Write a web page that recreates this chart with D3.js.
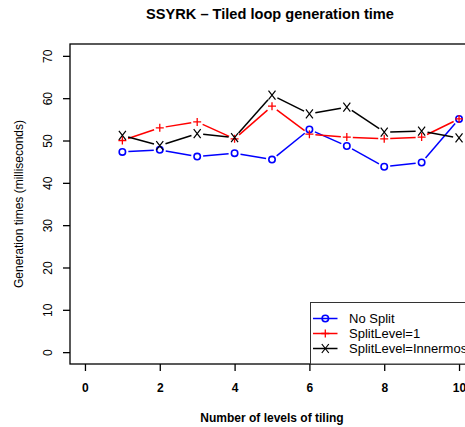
<!DOCTYPE html>
<html>
<head>
<meta charset="utf-8">
<script src="https://cdnjs.cloudflare.com/ajax/libs/d3/7.8.5/d3.min.js"></script>
<style>
  body { margin: 0; background: #fff; }
  svg text { font-family: "Liberation Sans", Arial, sans-serif; }
</style>
</head>
<body>
<script>
var levels = [1, 2, 3, 4, 5, 6, 7, 8, 9, 10];
var noSplit = [47.3, 47.8, 46.2, 47.0, 45.5, 52.6, 48.7, 43.8, 44.8, 55.1];
var splitLevel1 = [50.0, 53.0, 54.4, 50.4, 58.1, 51.5, 50.8, 50.4, 50.8, 55.1];
var splitInner = [51.2, 48.8, 51.6, 50.7, 60.7, 56.3, 57.9, 52.0, 52.2, 50.6];
var xTicks = [0, 2, 4, 6, 8, 10];
var yTicks = [0, 10, 20, 30, 40, 50, 60, 70];
var seriesNames = ['No Split', 'SplitLevel=1', 'SplitLevel=Innermost'];
var seriesColors = ['#0000ff', '#ff0000', '#000000'];
var seriesShapes = ['circle', 'plus', 'cross'];

var W = 465, H = 427;
var svg = d3.select('body').append('svg').attr('width', W).attr('height', H);

// R style: 4% padding on both axes
var xScale = d3.scaleLinear().domain([-0.4, 10.4]).range([70, 474]);
var yScale = d3.scaleLinear().domain([-2.8, 72.8]).range([364, 44]);

svg.append('text')
    .attr('x', 270).attr('y', 18.5)
    .attr('text-anchor', 'middle')
    .style('font-size', '14.6px').style('font-weight', 'bold')
    .text('SSYRK \u2013 Tiled loop generation time');

// plot box
svg.append('rect')
    .attr('x', 70).attr('y', 44).attr('width', 404).attr('height', 320)
    .attr('fill', 'none').attr('stroke', '#000').attr('stroke-width', 1.3);

var yAxis = svg.append('g').attr('transform', 'translate(70,0)')
    .call(d3.axisLeft(yScale).tickValues(yTicks).tickSize(7).tickPadding(0).tickFormat(d3.format('d')));
yAxis.select('.domain').remove();
yAxis.selectAll('.tick line').attr('stroke-width', 1.3);
yAxis.selectAll('.tick text')
    .attr('transform', 'translate(-22,0) rotate(-90)')
    .attr('x', 0).attr('dy', '0.35em')
    .attr('text-anchor', 'middle')
    .style('font-size', '12px').attr('fill', '#000');

var xAxis = svg.append('g').attr('transform', 'translate(0,364)')
    .call(d3.axisBottom(xScale).tickValues(xTicks).tickSize(7).tickPadding(0).tickFormat(d3.format('d')));
xAxis.select('.domain').remove();
xAxis.selectAll('.tick line').attr('stroke-width', 1.3);
xAxis.selectAll('.tick text')
    .attr('y', 28).attr('dy', 0)
    .style('font-size', '12px').style('font-weight', 'bold').attr('fill', '#000');

svg.append('text')
    .attr('x', 272).attr('y', 422)
    .attr('text-anchor', 'middle')
    .style('font-size', '12px').style('font-weight', 'bold')
    .text('Number of levels of tiling');

svg.append('text')
    .attr('transform', 'translate(23,204) rotate(-90)')
    .attr('text-anchor', 'middle')
    .style('font-size', '12px')
    .text('Generation times (milliseconds)');

var drawMarker = function (g, shape, cx, cy, color) {
    if (shape === 'circle') {
        g.append('circle').attr('cx', cx).attr('cy', cy).attr('r', 3.2)
            .attr('fill', 'none').attr('stroke', color).attr('stroke-width', 1.6);
    } else if (shape === 'plus') {
        g.append('path')
            .attr('d', 'M' + (cx - 4) + ',' + cy + 'H' + (cx + 4) + 'M' + cx + ',' + (cy - 4) + 'V' + (cy + 4))
            .attr('stroke', color).attr('stroke-width', 1.3);
    } else {
        g.append('path')
            .attr('d', 'M' + (cx - 3.5) + ',' + (cy - 4.5) + 'L' + (cx + 3.5) + ',' + (cy + 4.5) +
                'M' + (cx + 3.5) + ',' + (cy - 4.5) + 'L' + (cx - 3.5) + ',' + (cy + 4.5))
            .attr('stroke', color).attr('stroke-width', 1.2);
    }
};

// type="b" lines: segments with a gap around each point
var addSeries = function (values, i) {
    var g = svg.append('g');
    var pts = levels.map(function (d, k) { return [xScale(d), yScale(values[k])]; });
    var gap = 6;
    for (var k = 0; k < pts.length - 1; k++) {
        var a = pts[k], b = pts[k + 1];
        var dx = b[0] - a[0], dy = b[1] - a[1];
        var len = Math.sqrt(dx * dx + dy * dy);
        if (len <= 2 * gap) continue;
        var ux = dx / len, uy = dy / len;
        g.append('line')
            .attr('x1', a[0] + ux * gap).attr('y1', a[1] + uy * gap)
            .attr('x2', b[0] - ux * gap).attr('y2', b[1] - uy * gap)
            .attr('stroke', seriesColors[i]).attr('stroke-width', 1.5);
    }
    pts.forEach(function (p) { drawMarker(g, seriesShapes[i], p[0], p[1], seriesColors[i]); });
};

[noSplit, splitLevel1, splitInner].forEach(addSeries);

// legend
var leg = svg.append('g');
leg.append('rect')
    .attr('x', 310.5).attr('y', 302.5).attr('width', 170).attr('height', 61.5)
    .attr('fill', '#fff').attr('stroke', '#333').attr('stroke-width', 1);
seriesNames.forEach(function (name, i) {
    var y = 318.5 + i * 15;
    leg.append('line').attr('x1', 313).attr('x2', 337.5).attr('y1', y).attr('y2', y)
        .attr('stroke', seriesColors[i]).attr('stroke-width', 1.5);
    drawMarker(leg, seriesShapes[i], 325.3, y, seriesColors[i]);
    leg.append('text').attr('x', 349).attr('y', y).attr('dy', '0.35em')
        .style('font-size', '13px').text(name);
});
</script>
</body>
</html>
